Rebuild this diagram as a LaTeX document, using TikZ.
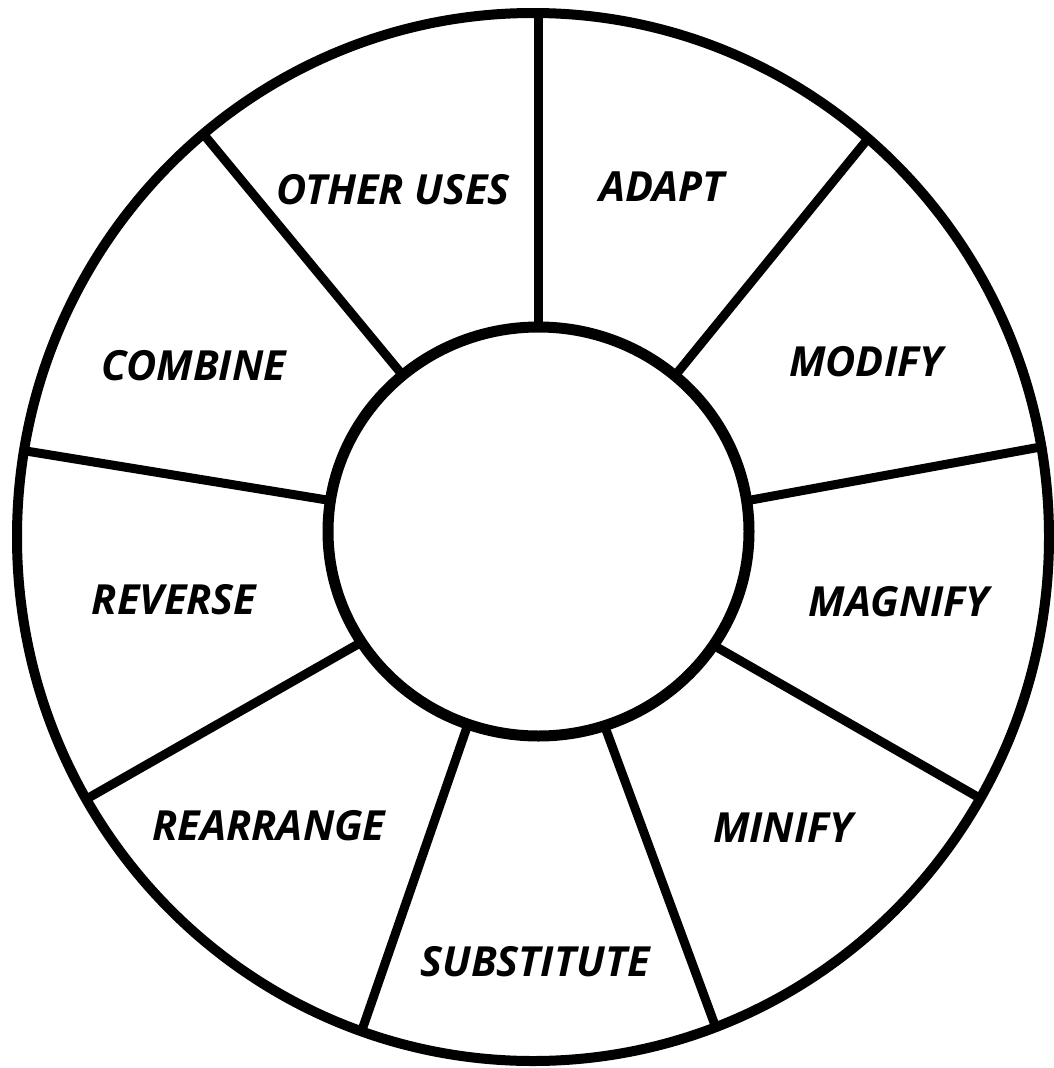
\documentclass[tikz,border=0pt]{standalone}
\usepackage{fontspec}
\setmainfont{Open Sans}
\begin{document}
\begin{tikzpicture}[x=1pt,y=-1pt,
  rim/.style={line width=10pt},
  hub/.style={line width=11pt},
  spoke/.style={line width=9pt},
  lbl/.style={font=\fontsize{41.5}{45}\selectfont\bfseries\itshape, inner sep=0pt}]
\useasboundingbox (0,0) rectangle (1054,1068);
% outer rim
\draw[rim] (533,537) ellipse [x radius=516, y radius=524];
% spoke end points
\coordinate (t1) at (538,330);  \coordinate (t2) at (538,16);
\coordinate (ur1) at (678,372); \coordinate (ur2) at (866,141);
\coordinate (r1) at (751,500);  \coordinate (r2) at (1046,446);
\coordinate (lr1) at (713,645); \coordinate (lr2) at (983,800);
\coordinate (br1) at (605,727); \coordinate (br2) at (716,1028);
\coordinate (bl1) at (467,727); \coordinate (bl2) at (362,1030);
\coordinate (ll1) at (360,643); \coordinate (ll2) at (90,797);
\coordinate (l1) at (327,500);  \coordinate (l2) at (26,451);
\coordinate (ul1) at (400,372); \coordinate (ul2) at (205,136);
\draw[spoke] (t1) -- (t2);
\draw[spoke] (ur1) -- (ur2);
\draw[spoke] (r1) -- (r2);
\draw[spoke] (lr1) -- (lr2);
\draw[spoke] (br1) -- (br2);
\draw[spoke] (bl1) -- (bl2);
\draw[spoke] (ll1) -- (ll2);
\draw[spoke] (l1) -- (l2);
\draw[spoke] (ul1) -- (ul2);
% hub
\draw[hub, fill=white] (538.5,531.5) ellipse [x radius=210.5, y radius=204.5];
% labels
\node[lbl] (other) at (393,190) {OTHER USES};
\node[lbl] (adapt) at (662,187) {ADAPT};
\node[lbl] (modify) at (866,362) {MODIFY};
\node[lbl] (combine) at (194,366) {COMBINE};
\node[lbl] (magnify) at (899,602) {MAGNIFY};
\node[lbl] (reverse) at (174,600) {REVERSE};
\node[lbl] (rearrange) at (269,826) {REARRANGE};
\node[lbl] (minify) at (783,828) {MINIFY};
\node[lbl] (substitute) at (535,962) {SUBSTITUTE};
\end{tikzpicture}
\end{document}
